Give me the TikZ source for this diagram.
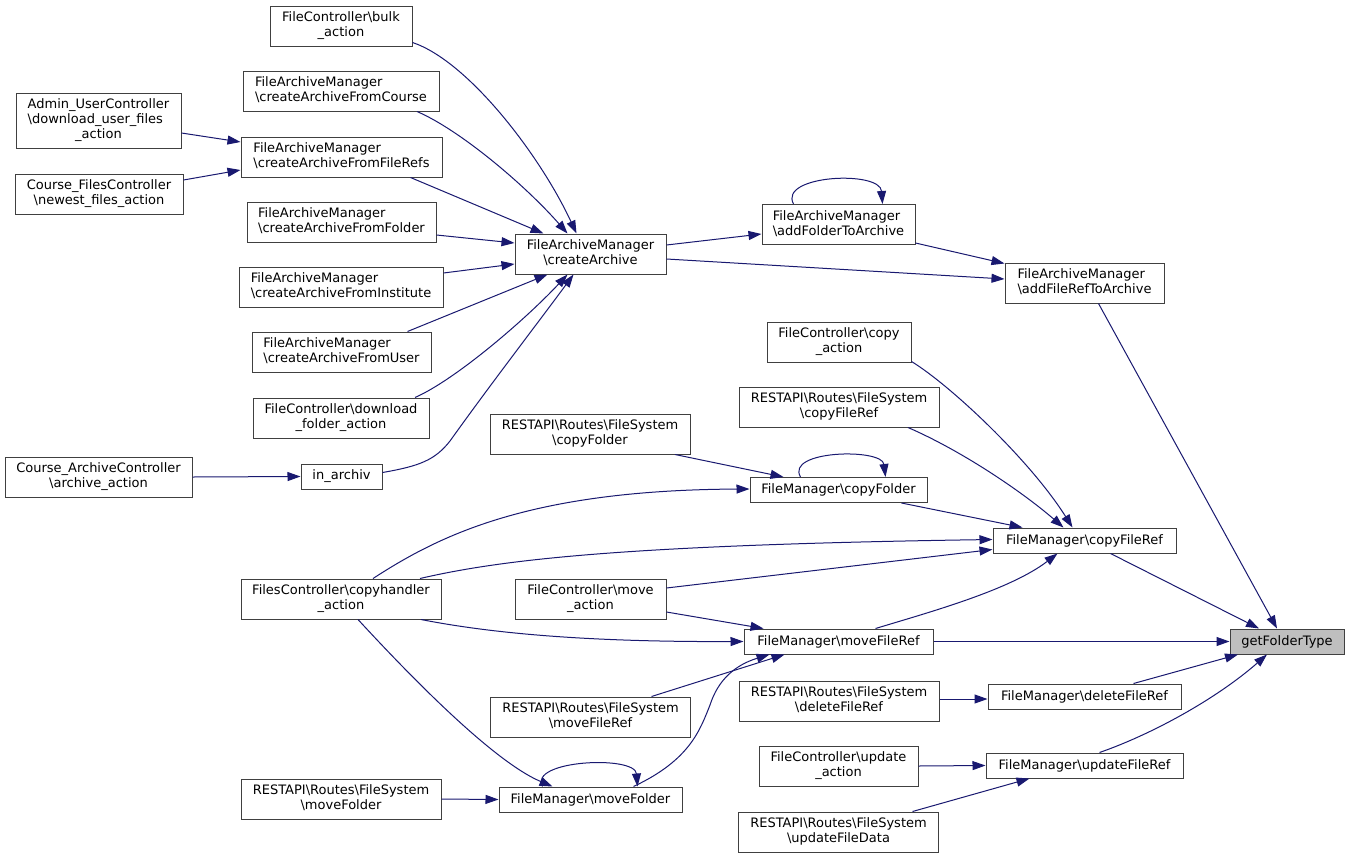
\documentclass[tikz,border=0pt]{standalone}
\usepackage{fontspec}
\setmainfont{DejaVu Sans}
\usetikzlibrary{arrows.meta}
\definecolor{edgec}{HTML}{191970}
\definecolor{boxc}{HTML}{404040}
\definecolor{hilite}{HTML}{BFBFBF}
\newcommand{\BSL}{\textbackslash}
\newcommand{\TwoL}[2]{\begin{tabular}{@{}l@{}}#1\\\multicolumn{1}{@{}c@{}}{#2}\end{tabular}}
\newcommand{\ThreeL}[3]{\begin{tabular}{@{}l@{}}#1\\#2\\\multicolumn{1}{@{}c@{}}{#3}\end{tabular}}
\tikzset{
  box/.style 2 args={draw=boxc, line width=1pt, fill=white, inner sep=0pt,
    minimum width=#1pt, minimum height=#2pt, align=center},
  call/.style={draw=edgec, line width=1pt, -{Triangle[length=13pt,width=9pt]}},
}
\begin{document}
\begin{tikzpicture}[x=1pt,y=-1pt,font=\fontsize{13}{15}\selectfont]
\fill[white] (0,0) rectangle (1349,857);
\useasboundingbox (0,0) rectangle (1349,857);

% nodes
\node[box={142}{40}] (bulk) at (341,26) {\TwoL{FileController\BSL{}bulk}{\_action}};
\node[box={196}{40}] (cac) at (341,91) {\TwoL{FileArchiveManager}{\BSL{}createArchiveFromCourse}};
\node[box={201}{40}] (cafr) at (341.5,157) {\TwoL{FileArchiveManager}{\BSL{}createArchiveFromFileRefs}};
\node[box={189}{40}] (cafo) at (341.5,222) {\TwoL{FileArchiveManager}{\BSL{}createArchiveFromFolder}};
\node[box={204}{40}] (cai) at (341,287) {\TwoL{FileArchiveManager}{\BSL{}createArchiveFromInstitute}};
\node[box={179}{40}] (cau) at (341.5,352) {\TwoL{FileArchiveManager}{\BSL{}createArchiveFromUser}};
\node[box={176}{40}] (dlf) at (341,418) {\TwoL{FileController\BSL{}download}{\_folder\_action}};
\node[box={165}{55}] (admin) at (98.5,120.5) {\ThreeL{Admin\_UserController}{\BSL{}download\_user\_files}{\_action}};
\node[box={168}{40}] (cfc) at (99,194) {\TwoL{Course\_FilesController}{\BSL{}newest\_files\_action}};
\node[box={187}{40}] (carc) at (98.5,477) {\TwoL{Course\_ArchiveController}{\BSL{}archive\_action}};
\node[box={81}{25}] (inarch) at (341.5,476.5) {in\_archiv};
\node[box={151}{40}] (ca) at (590.5,254) {\TwoL{FileArchiveManager}{\BSL{}createArchive}};
\node[box={153}{40}] (afta) at (838.5,224.5) {\TwoL{FileArchiveManager}{\BSL{}addFolderToArchive}};
\node[box={159}{40}] (afrta) at (1084.5,283) {\TwoL{FileArchiveManager}{\BSL{}addFileRefToArchive}};
\node[box={144}{40}] (copyact) at (839,342) {\TwoL{FileController\BSL{}copy}{\_action}};
\node[box={200}{40}] (rcfr) at (839,407) {\TwoL{RESTAPI\BSL{}Routes\BSL{}FileSystem}{\BSL{}copyFileRef}};
\node[box={200}{40}] (rcfo) at (590,434) {\TwoL{RESTAPI\BSL{}Routes\BSL{}FileSystem}{\BSL{}copyFolder}};
\node[box={177}{25}] (cfo) at (838.5,490) {FileManager\BSL{}copyFolder};
\node[box={183}{25}] (cfr) at (1084.5,540.5) {FileManager\BSL{}copyFileRef};
\node[box={114}{25}, fill=hilite] (gft) at (1287,641.5) {getFolderType};
\node[box={200}{40}] (chand) at (341,599) {\TwoL{FilesController\BSL{}copyhandler}{\_action}};
\node[box={151}{40}] (moveact) at (590.5,599) {\TwoL{FileController\BSL{}move}{\_action}};
\node[box={189}{25}] (mfr) at (838.5,641.5) {FileManager\BSL{}moveFileRef};
\node[box={200}{40}] (rmfr) at (590.5,717) {\TwoL{RESTAPI\BSL{}Routes\BSL{}FileSystem}{\BSL{}moveFileRef}};
\node[box={200}{40}] (rdfr) at (839,701) {\TwoL{RESTAPI\BSL{}Routes\BSL{}FileSystem}{\BSL{}deleteFileRef}};
\node[box={193}{25}] (dfr) at (1084.5,696.5) {FileManager\BSL{}deleteFileRef};
\node[box={159}{40}] (upact) at (838.5,766) {\TwoL{FileController\BSL{}update}{\_action}};
\node[box={197}{25}] (ufr) at (1084.5,765.5) {FileManager\BSL{}updateFileRef};
\node[box={200}{40}] (rmfo) at (341,799) {\TwoL{RESTAPI\BSL{}Routes\BSL{}FileSystem}{\BSL{}moveFolder}};
\node[box={183}{25}] (mfo) at (590.5,799.5) {FileManager\BSL{}moveFolder};
\node[box={200}{40}] (rufd) at (838.5,832) {\TwoL{RESTAPI\BSL{}Routes\BSL{}FileSystem}{\BSL{}updateFileData}};

% edges into createArchive
\draw[call] ([yshift=4pt]bulk.south east) .. controls (468,61) and (540,155) .. ([xshift=-14pt]ca.north);
\draw[call] ([xshift=76pt]cac.south) .. controls (460,130) and (525,185) .. ([xshift=-23pt]ca.north);
\draw[call] ([xshift=69pt]cafr.south) -- ([xshift=-47pt]ca.north);
\draw[call] ([yshift=-13pt]cafo.east) -- ([yshift=11pt]ca.west);
\draw[call] ([yshift=14pt]cai.east) -- ([yshift=-10pt]ca.west);
\draw[call] ([xshift=66pt]cau.north) -- ([xshift=-43pt]ca.south);
\draw[call] ([xshift=74pt]dlf.north) .. controls (455,380) and (525,320) .. ([xshift=-23pt]ca.south);
\draw[call] ([yshift=4pt]inarch.east) .. controls (420,466) and (435,460) .. (450,441)
  .. controls (490,385) and (540,320) .. ([xshift=-17pt]ca.south);
% into createArchiveFromFileRefs / in_archiv
\draw[call] ([yshift=-12.5pt]admin.east) -- ([yshift=15pt]cafr.west);
\draw[call] ([yshift=14pt]cfc.east) -- ([yshift=-13pt]cafr.west);
\draw[call] (carc.east) -- (inarch.west);
% archive chain
\draw[call] ([yshift=9pt]ca.east) -- ([yshift=-9.5pt]afta.west);
\draw[call] ([yshift=-5pt]ca.east) -- ([yshift=4pt]afrta.west);
\draw[call] ([xshift=-45pt]afta.north) .. controls (778,175) and (880,170) .. ([xshift=44pt]afta.north);
\draw[call] ([yshift=2pt]afta.south east) -- ([yshift=-1pt]afrta.north west);
\draw[call] ([xshift=14pt]afrta.south) -- ([xshift=-10pt]gft.north);
% into copyFileRef
\draw[call] ([yshift=1pt]copyact.south east) .. controls (950,385) and (1030,460) .. ([xshift=-12pt]cfr.north);
\draw[call] ([xshift=69pt]rcfr.south) .. controls (960,450) and (1020,490) .. ([xshift=-21pt]cfr.north);
\draw[call] ([xshift=85pt]rcfo.south) -- ([xshift=-55pt]cfo.north);
\draw[call] ([xshift=-38pt]cfo.north) .. controls (785,450) and (882,448) .. ([xshift=47pt]cfo.north);
\draw[call] ([xshift=63pt]cfo.south) -- ([xshift=-62pt]cfr.north);
\draw[call] ([xshift=32pt]chand.north) .. controls (440,535) and (530,490) .. ([yshift=1pt]cfo.west);
\draw[call] ([xshift=79pt]chand.north) .. controls (500,560) and (620,545) .. ([yshift=1pt]cfr.west);
\draw[call] ([yshift=11pt]moveact.east) -- ([yshift=-9pt]cfr.west);
\draw[call] ([xshift=37pt]mfr.north) .. controls (930,612) and (1010,590) .. ([xshift=-27pt]cfr.south);
\draw[call] ([xshift=26pt]cfr.south) -- ([xshift=-28pt]gft.north);
% into moveFileRef
\draw[call] ([yshift=-13pt]moveact.east) -- ([xshift=20pt]mfr.north west);
\draw[call] ([xshift=80pt]chand.south) .. controls (500,635) and (600,642) .. (mfr.west);
\draw[call] (mfr.east) -- (gft.west);
\draw[call] ([xshift=61pt]rmfr.north) -- ([xshift=-54pt]mfr.south);
\draw[call] ([xshift=43pt]mfo.north) .. controls (690,760) and (700,730) .. (710,705)
  .. controls (718,680) and (735,665) .. ([xshift=-69pt]mfr.south);
% into moveFolder
\draw[call] ([xshift=17pt]chand.south) .. controls (400,665) and (490,760) .. ([xshift=-38pt]mfo.north);
\draw[call] ([xshift=-48pt]mfo.north) .. controls (528,760) and (635,755) .. ([xshift=47pt]mfo.north);
\draw[call] (rmfo.east) -- (mfo.west);
% delete / update
\draw[call] ([xshift=49pt]dfr.north) -- ([xshift=-49pt]gft.south);
\draw[call] ([yshift=2pt]rdfr.east) -- ([yshift=-2.5pt]dfr.west);
\draw[call] ([xshift=15pt]ufr.north) .. controls (1150,735) and (1215,700) .. ([xshift=-20pt]gft.south);
\draw[call] (upact.east) -- (ufr.west);
\draw[call] ([xshift=74pt]rufd.north) -- ([xshift=-55pt]ufr.south);
\end{tikzpicture}
\end{document}
